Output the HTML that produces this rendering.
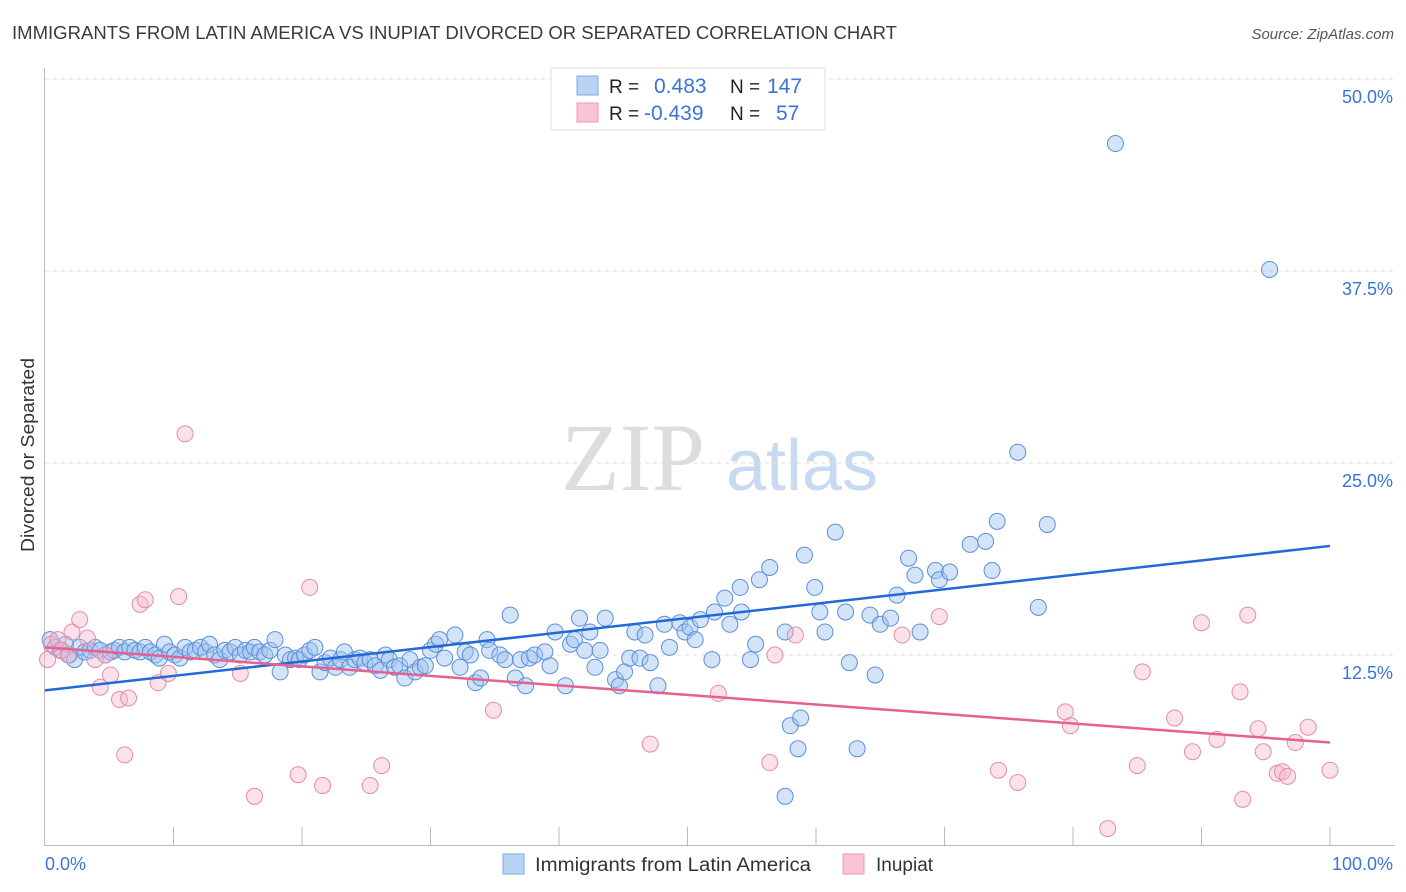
<!DOCTYPE html>
<html><head><meta charset="utf-8"><style>
body{margin:0;background:#fff;font-family:"Liberation Sans",sans-serif;}
#wrap{position:relative;width:1406px;height:892px;overflow:hidden}
</style></head><body>
<div id="wrap">
<svg id="svg" width="1406" height="892" xmlns="http://www.w3.org/2000/svg">
<text x="12" y="39" font-size="18" fill="#3a3a3a" textLength="885" lengthAdjust="spacingAndGlyphs">IMMIGRANTS FROM LATIN AMERICA VS INUPIAT DIVORCED OR SEPARATED CORRELATION CHART</text>
<text x="1394" y="39" font-size="15" fill="#555" font-style="italic" text-anchor="end">Source: ZipAtlas.com</text>
<text x="34" y="455" font-size="18" fill="#333" text-anchor="middle" textLength="194" lengthAdjust="spacingAndGlyphs" transform="rotate(-90 34 455)">Divorced or Separated</text>
<g>
<text x="633" y="490" font-size="96" fill="#ddd" font-family="Liberation Serif,serif" text-anchor="middle">ZIP</text>
<text x="802" y="490" font-size="72" fill="#c8daf0" text-anchor="middle">atlas</text>
</g>
<g id="grid"></g><g id="axes"></g><g id="pts"></g><g id="lines"></g>
<g>
<rect x="551" y="68" width="274" height="62" fill="#fff" stroke="#ddd"/>
<rect x="577" y="76" width="21" height="19" fill="#b9d3f5" stroke="#7fa8e0"/>
<rect x="577" y="103" width="21" height="19" fill="#f9c4d3" stroke="#eb9ab5"/>
<text x="609" y="93" font-size="19" fill="#222">R =</text>
<text x="654" y="93" font-size="21" fill="#3a74d8">0.483</text>
<text x="730" y="93" font-size="19" fill="#222">N =</text>
<text x="767" y="93" font-size="21" fill="#3a74d8">147</text>
<text x="609" y="120" font-size="19" fill="#222">R =</text>
<text x="644" y="120" font-size="21" fill="#3a74d8">-0.439</text>
<text x="730" y="120" font-size="19" fill="#222">N =</text>
<text x="776" y="120" font-size="21" fill="#3a74d8">57</text>
</g>
<g>
<rect x="503" y="854" width="21" height="20" fill="#b9d3f5" stroke="#7fa8e0"/>
<text x="535" y="871" font-size="19" fill="#333" textLength="276" lengthAdjust="spacingAndGlyphs">Immigrants from Latin America</text>
<rect x="843" y="854" width="21" height="20" fill="#f9c4d3" stroke="#eb9ab5"/>
<text x="876" y="871" font-size="19" fill="#333">Inupiat</text>
</g>
</svg>
</div>
<script>
const blueX=[0.4,0.8,1.2,1.6,1.9,2.3,2.7,3.1,3.5,3.9,4.3,4.7,5.1,5.4,5.8,6.2,6.6,7.0,7.4,7.8,8.2,8.6,8.9,9.3,9.7,10.1,10.5,10.9,11.3,11.7,12.1,12.5,12.8,13.2,13.6,14.0,14.4,14.8,15.2,15.6,16.0,16.3,16.7,17.1,17.5,17.9,18.3,18.7,19.1,19.5,19.8,20.2,20.6,21.0,21.4,21.8,22.2,22.6,23.0,23.3,23.7,24.1,24.5,24.9,25.3,25.7,26.1,26.5,26.8,27.2,27.6,28.0,28.4,28.8,29.2,29.6,30.0,30.4,30.7,31.1,31.9,32.3,32.7,33.1,33.5,33.9,34.4,34.6,35.4,35.8,36.2,36.6,37.0,37.4,37.7,38.1,38.9,39.3,39.7,40.5,40.9,41.2,41.6,42.0,42.4,42.8,43.2,43.6,44.4,44.7,45.1,45.5,45.9,46.3,46.7,47.1,47.7,48.2,48.6,49.4,49.8,50.2,50.6,51.0,51.9,52.1,52.9,53.3,54.1,54.2,54.9,55.3,55.6,56.4,57.6,58.0,58.6,58.8,59.1,59.9,60.3,60.7,61.5,62.3,62.6,63.2,64.2,64.6,65.0,65.8,66.3,67.2,67.7,68.1,69.3,69.6,70.4,72.0,73.2,73.7,74.1,75.7,77.3,78.0,83.3,95.3,57.6];
const blueY=[13.5,13.0,12.8,13.2,12.5,12.2,13.0,12.7,12.8,13.0,12.8,12.5,12.7,12.8,13.0,12.7,13.0,12.8,12.7,13.0,12.7,12.5,12.3,13.2,12.7,12.5,12.3,13.0,12.7,12.8,13.0,12.7,13.2,12.5,12.2,12.8,12.7,13.0,12.5,12.8,12.7,13.0,12.7,12.5,12.8,13.5,11.4,12.5,12.2,12.3,12.2,12.5,12.8,13.0,11.4,12.0,12.3,11.7,12.2,12.7,11.7,12.2,12.3,12.0,12.2,11.8,11.5,12.5,12.2,11.7,11.8,11.0,12.2,11.4,11.7,11.8,12.8,13.2,13.5,12.3,13.8,11.7,12.7,12.5,10.7,11.0,13.5,12.8,12.5,12.2,15.1,11.0,12.2,10.5,12.3,12.5,12.7,11.8,14.0,10.5,13.2,13.5,14.9,12.8,14.0,11.7,12.8,14.9,10.9,10.5,11.4,12.3,14.0,12.3,13.8,12.0,10.5,14.5,13.0,14.6,14.0,14.3,13.5,14.8,12.2,15.3,16.2,14.5,16.9,15.3,12.2,13.2,17.4,18.2,14.0,7.9,6.4,8.4,19.0,16.9,15.3,14.0,20.5,15.3,12.0,6.4,15.1,11.2,14.5,14.9,16.4,18.8,17.7,14.0,18.0,17.4,17.9,19.7,19.9,18.0,21.2,25.7,15.6,21.0,45.8,37.6,3.3];
const pinkX=[0.2,0.5,1.0,1.3,1.8,2.1,2.7,3.3,3.9,4.3,4.7,5.1,5.8,6.2,6.5,7.4,7.8,8.8,9.6,10.4,10.9,15.2,16.3,19.7,20.6,21.6,25.3,26.2,34.9,47.1,52.4,56.4,56.8,58.4,66.7,69.6,74.2,75.7,79.4,79.8,82.7,85.0,85.4,87.9,89.3,90.0,91.2,93.0,93.2,93.6,94.4,94.8,95.9,96.3,96.7,97.3,98.3,100];
const pinkY=[12.2,13.2,13.5,12.8,12.5,14.0,14.8,13.6,12.2,10.4,12.5,11.2,9.6,6.0,9.7,15.8,16.1,10.7,11.3,16.3,26.9,11.3,3.3,4.7,16.9,4.0,4.0,5.3,8.9,6.7,10.0,5.5,12.5,13.8,13.8,15.0,5.0,4.2,8.8,7.9,1.2,5.3,11.4,8.4,6.2,14.6,7.0,10.1,3.1,15.1,7.7,6.2,4.8,4.9,4.6,6.8,7.8,5.0];
const blueTrend=[10.2,19.6];
const pinkTrend=[13.0,6.8];
const yTicks=[12.5,25.0,37.5,50.0];
const xTicksLabels=["0.0%","100.0%"];
const X0=45,X1=1330,Y0=847,PY=15.36;
const sx=v=>X0+(X1-X0)*v/100, sy=v=>Y0-v*PY;
const NS="http://www.w3.org/2000/svg";
function mk(tag,attrs,parent){const e=document.createElementNS(NS,tag);for(const k in attrs)e.setAttribute(k,attrs[k]);document.getElementById(parent).appendChild(e);return e;}
yTicks.forEach(t=>{
 const l=mk('line',{x1:45,x2:1395,y1:sy(t),y2:sy(t),stroke:'#ddd','stroke-dasharray':'4,4'},'grid');
 
 
 const tx=mk('text',{x:1393,y:sy(t)+24,'font-size':18,fill:'#3a74d8','text-anchor':'end'},'grid');
 tx.textContent=t.toFixed(1)+'%';
 
 
});
let ax=mk('line',{x1:44.5,x2:44.5,y1:68,y2:845,stroke:'#bbb'},'axes');


ax=mk('line',{x1:44,x2:1395,y1:845.5,y2:845.5,stroke:'#bbb'},'axes');


for(let i=1;i<=10;i++){
 const t=mk('line',{x1:sx(i*10),x2:sx(i*10),y1:827,y2:845,stroke:'#bbb'},'axes');
 
 
}
[[0,'start',45],[100,'end',1393]].forEach((d,i)=>{
 const t=mk('text',{x:d[2],y:870,'font-size':18,fill:'#3a74d8','text-anchor':d[1]},'axes');
 t.textContent=xTicksLabels[i];
 
 
});
blueX.forEach((x,i)=>{
 const c=mk('circle',{cx:sx(x),cy:sy(blueY[i]),r:8,fill:'rgba(160,196,240,0.45)',stroke:'#5b8fdc','stroke-width':1},'pts');
 
 
});
pinkX.forEach((x,i)=>{
 const c=mk('circle',{cx:sx(x),cy:sy(pinkY[i]),r:8,fill:'rgba(246,182,202,0.4)',stroke:'#e88aab','stroke-width':1},'pts');
 
 
});
let tl=mk('line',{x1:sx(0),x2:sx(100),y1:sy(blueTrend[0]),y2:sy(blueTrend[1]),stroke:'#2268d8','stroke-width':2.5},'lines');


tl=mk('line',{x1:sx(0),x2:sx(100),y1:sy(pinkTrend[0]),y2:sy(pinkTrend[1]),stroke:'#e5628e','stroke-width':2.5},'lines');


</script>
</body></html>
